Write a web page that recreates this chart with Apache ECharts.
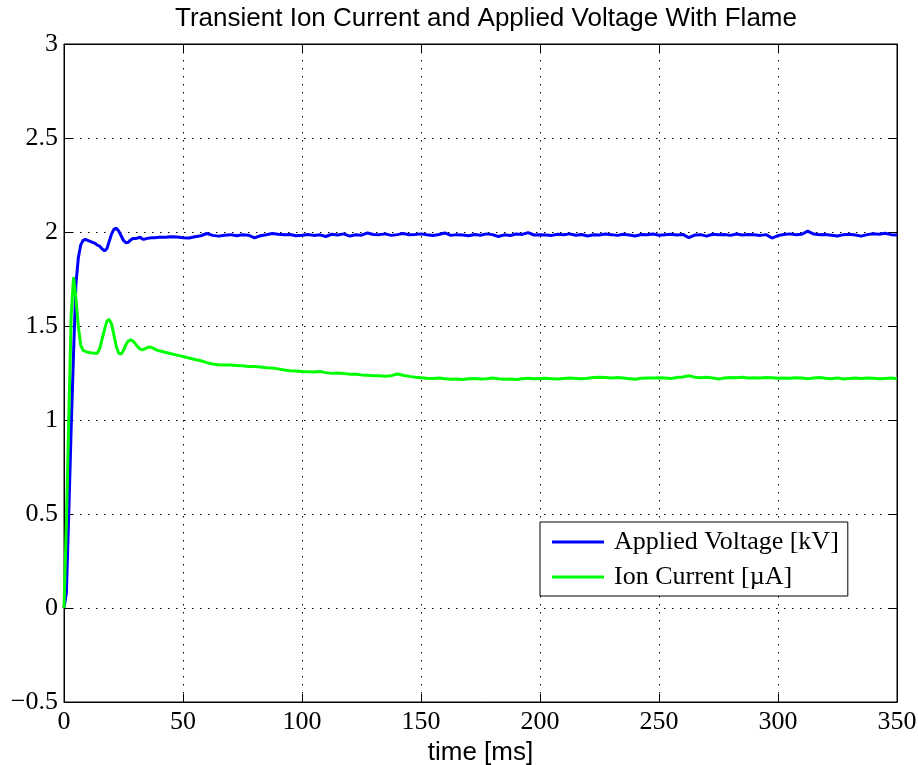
<!DOCTYPE html>
<html>
<head>
<meta charset="utf-8">
<title>Transient Ion Current and Applied Voltage With Flame</title>
<script src="https://cdn.jsdelivr.net/npm/echarts@6/dist/echarts.min.js"></script>
<style>
  html, body { margin: 0; padding: 0; background: #fff; }
  #chart { width: 918px; height: 765px; }
</style>
</head>
<body>
<div id="chart"></div>
<script>
// Sample clock: 1 ms steps during the start-up transient, 2.5 ms afterwards.
const timeMs = [];
for (let t = 0; t <= 40; t += 1) timeMs.push(t);
for (let k = 1; k <= 124; k++) timeMs.push(40 + 2.5 * k);

// Applied voltage [kV]
const voltageKV = [
  // 0 .. 40 ms
  0.000, 0.080, 0.500, 0.950, 1.350, 1.720, 1.860, 1.930, 1.955, 1.960,
  1.955, 1.950, 1.945, 1.940, 1.930, 1.925, 1.910, 1.900, 1.910, 1.950,
  1.990, 2.015, 2.020, 2.005, 1.980, 1.955, 1.943, 1.945, 1.958, 1.966,
  1.965, 1.968, 1.972, 1.962, 1.963, 1.966, 1.968, 1.970, 1.970, 1.971,
  1.972,
  // 42.5 .. 100 ms
  1.972, 1.975, 1.973, 1.970, 1.968, 1.975, 1.980, 1.992, 1.982, 1.978,
  1.983, 1.986, 1.980, 1.985, 1.983, 1.969, 1.980, 1.985, 1.992, 1.988,
  1.985, 1.987, 1.980, 1.983,
  // 102.5 .. 150 ms
  1.987, 1.982, 1.985, 1.976, 1.988, 1.984, 1.990, 1.978, 1.985, 1.983,
  1.995, 1.987, 1.986, 1.990, 1.982, 1.986, 1.992, 1.985, 1.987, 1.990,
  // 152.5 .. 200 ms
  1.985, 1.981, 1.987, 1.995, 1.982, 1.986, 1.984, 1.980, 1.987, 1.983,
  1.990, 1.986, 1.976, 1.985, 1.981, 1.989, 1.987, 1.997, 1.984, 1.986,
  // 202.5 .. 250 ms
  1.984, 1.982, 1.988, 1.985, 1.990, 1.983, 1.987, 1.979, 1.985, 1.984,
  1.989, 1.986, 1.982, 1.988, 1.984, 1.979, 1.987, 1.985, 1.989, 1.983,
  // 252.5 .. 300 ms
  1.986, 1.988, 1.984, 1.987, 1.970, 1.984, 1.986, 1.978, 1.988, 1.985,
  1.987, 1.982, 1.989, 1.984, 1.987, 1.985, 1.982, 1.986, 1.968, 1.981,
  // 302.5 .. 350 ms
  1.987, 1.990, 1.985, 1.988, 2.005, 1.989, 1.985, 1.987, 1.983, 1.979,
  1.986, 1.988, 1.984, 1.978, 1.986, 1.991, 1.988, 1.993, 1.986, 1.984
];

// Ion current [µA]
const ionCurrentUA = [
  // 0 .. 40 ms
  0.000, 0.450, 1.000, 1.550, 1.760, 1.650, 1.500, 1.400, 1.370, 1.365,
  1.360, 1.358, 1.356, 1.355, 1.355, 1.380, 1.430, 1.480, 1.525, 1.535,
  1.510, 1.450, 1.390, 1.355, 1.350, 1.370, 1.400, 1.420, 1.426, 1.420,
  1.405, 1.390, 1.377, 1.373, 1.378, 1.385, 1.388, 1.385, 1.378, 1.372,
  1.368,
  // 42.5 .. 100 ms
  1.360, 1.352, 1.345, 1.338, 1.330, 1.322, 1.315, 1.305, 1.298, 1.294,
  1.293, 1.292, 1.290, 1.288, 1.285, 1.284, 1.282, 1.278, 1.276, 1.272,
  1.266, 1.262, 1.260, 1.258,
  // 102.5 .. 150 ms
  1.257, 1.255, 1.258, 1.252, 1.248, 1.250, 1.247, 1.244, 1.243, 1.240,
  1.238, 1.236, 1.235, 1.233, 1.236, 1.245, 1.238, 1.232, 1.228, 1.225,
  // 152.5 .. 200 ms
  1.222, 1.221, 1.223, 1.219, 1.217, 1.218, 1.216, 1.219, 1.221, 1.218,
  1.220, 1.223, 1.219, 1.217, 1.218, 1.216, 1.219, 1.222, 1.220, 1.221,
  // 202.5 .. 250 ms
  1.222, 1.220, 1.218, 1.221, 1.223, 1.221, 1.219, 1.222, 1.226, 1.228,
  1.226, 1.224, 1.226, 1.223, 1.220, 1.217, 1.222, 1.224, 1.223, 1.225,
  // 252.5 .. 300 ms
  1.224, 1.221, 1.226, 1.229, 1.235, 1.228, 1.225, 1.227, 1.224, 1.218,
  1.223, 1.226, 1.225, 1.227, 1.224, 1.225, 1.223, 1.226, 1.225, 1.222,
  // 302.5 .. 350 ms
  1.224, 1.222, 1.225, 1.223, 1.220, 1.223, 1.226, 1.222, 1.220, 1.224,
  1.218, 1.221, 1.223, 1.221, 1.224, 1.222, 1.219, 1.221, 1.223, 1.220
];

const seriesNames = ['Applied Voltage [kV]', 'Ion Current [\u00B5A]'];
const xTicks = { min: 0, max: 350, step: 50 };
const yTicks = { min: -0.5, max: 3, step: 0.5 };

const pairs = (ys) => timeMs.map((t, i) => [t, ys[i]]);

const serif = '"Liberation Serif", "DejaVu Serif", serif';
const sans = '"Liberation Sans", Arial, sans-serif';
const gridDots = { show: true, lineStyle: { color: '#000', width: 1, type: [1.5, 6.5] } };

const chart = echarts.init(document.getElementById('chart'), null, { renderer: 'canvas' });

chart.setOption({
  animation: false,
  backgroundColor: '#fff',
  title: {
    text: 'Transient Ion Current and Applied Voltage With Flame',
    left: 481, top: 1, textAlign: 'center',
    textStyle: { fontFamily: sans, fontSize: 26, fontWeight: 'normal', color: '#000' }
  },
  grid: {
    left: 64, right: 21, top: 44, bottom: 63,
    containLabel: false, outerBoundsMode: 'none',
    show: true, borderColor: '#000', borderWidth: 1, backgroundColor: '#fff'
  },
  legend: {
    orient: 'vertical',
    left: 540, top: 522,
    padding: [5, 9, 4, 12],
    itemGap: 5,
    itemWidth: 52, itemHeight: 3,
    icon: 'rect',
    backgroundColor: '#fff',
    borderColor: '#000', borderWidth: 1,
    textStyle: { fontFamily: serif, fontSize: 26, color: '#000', lineHeight: 30, padding: [0, 0, 0, 5] },
    data: seriesNames
  },
  xAxis: [{
    type: 'value', min: xTicks.min, max: xTicks.max, interval: xTicks.step,
    name: 'time [ms]', nameLocation: 'middle', nameGap: 31,
    nameTextStyle: { fontFamily: sans, fontSize: 26, color: '#000' },
    axisLine: { show: true, onZero: false, lineStyle: { color: '#000', width: 1 } },
    axisTick: { show: true, inside: true, length: 8, lineStyle: { color: '#000' } },
    axisLabel: { fontFamily: serif, fontSize: 26, color: '#000', margin: 7, hideOverlap: false },
    splitLine: gridDots
  }, {
    type: 'value', position: 'top', min: xTicks.min, max: xTicks.max, interval: xTicks.step,
    axisLine: { show: true, onZero: false, lineStyle: { color: '#000' } },
    axisTick: { show: true, inside: true, length: 8, lineStyle: { color: '#000' } },
    axisLabel: { show: false }, splitLine: { show: false }
  }],
  yAxis: [{
    type: 'value', min: yTicks.min, max: yTicks.max, interval: yTicks.step,
    axisLine: { show: true, onZero: false, lineStyle: { color: '#000', width: 1 } },
    axisTick: { show: true, inside: true, length: 8, lineStyle: { color: '#000' } },
    axisLabel: {
      fontFamily: serif, fontSize: 26, color: '#000', margin: 6, hideOverlap: false,
      formatter: (v) => (v < 0 ? '\u2212' + Math.abs(v) : String(v))
    },
    splitLine: gridDots
  }, {
    type: 'value', position: 'right', min: yTicks.min, max: yTicks.max, interval: yTicks.step,
    axisLine: { show: true, onZero: false, lineStyle: { color: '#000' } },
    axisTick: { show: true, inside: true, length: 8, lineStyle: { color: '#000' } },
    axisLabel: { show: false }, splitLine: { show: false }
  }],
  series: [{
    name: seriesNames[0], type: 'line', xAxisIndex: 0, yAxisIndex: 0,
    data: pairs(voltageKV), showSymbol: false, symbol: 'none',
    color: '#0000ff', lineStyle: { color: '#0000ff', width: 3 }, z: 3
  }, {
    name: seriesNames[1], type: 'line', xAxisIndex: 0, yAxisIndex: 0,
    data: pairs(ionCurrentUA), showSymbol: false, symbol: 'none',
    color: '#00ff00', lineStyle: { color: '#00ff00', width: 3 }, z: 4
  }]
});
</script>
</body>
</html>
